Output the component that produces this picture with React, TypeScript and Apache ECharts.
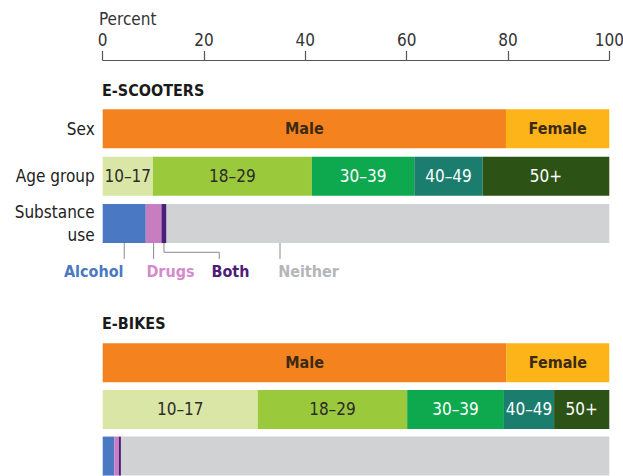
import React, { useEffect, useRef } from "react";
import * as echarts from "echarts";

const rows = ["Sex", "Age group", "Substance\nuse"];
const ticks = [0, 20, 40, 60, 80, 100];

const sexNames = ["Male", "Female"];
const ageNames = ["10–17", "18–29", "30–39", "40–49", "50+"];
const useNames = ["Alcohol", "Drugs", "Both", "Neither"];

const scooterSex = [79.6, 20.4];
const scooterAge = [9.9, 31.4, 20.2, 13.5, 25.0];
const scooterUse = [8.5, 3.1, 1.0, 87.4];

const bikeSex = [79.7, 20.3];
const bikeAge = [30.6, 29.5, 19.1, 9.9, 10.9];
const bikeUse = [2.3, 0.9, 0.4, 96.4];

const sexColors = ["#F4821F", "#FCB418"];
const ageColors = ["#DAE6A6", "#9BC93C", "#0EA84F", "#1B7D6E", "#2C5215"];
const useColors = ["#4A78C2", "#C97DC1", "#4B1E79", "#D1D2D4"];
const sexText = ["#3b2a14", "#3b2a14"];
const ageText = ["#2b2b2b", "#2b2b2b", "#ffffff", "#ffffff", "#ffffff"];
const legendColors = ["#4A78C2", "#D58BCB", "#4B1E79", "#B5B6B8"];

const FONT = "'DejaVu Sans Condensed', 'Liberation Sans Narrow', sans-serif";

function buildSeries(grid: number, sex: number[], age: number[], use: number[]) {
  const out: any[] = [];
  const mk = (name: string, row: number, v: number, color: string, label: any) => {
    const data: any[] = ["-", "-", "-"];
    data[row] = v;
    out.push({
      type: "bar",
      name,
      xAxisIndex: grid,
      yAxisIndex: grid,
      stack: "s" + grid,
      barWidth: 39,
      data,
      itemStyle: { color },
      label,
      emphasis: { disabled: true },
    });
  };
  sex.forEach((v, i) =>
    mk(sexNames[i], 0, v, sexColors[i], {
      show: true,
      position: "inside",
      formatter: "{a}",
      fontFamily: FONT,
      fontSize: 16,
      fontWeight: "bold",
      color: sexText[i],
    })
  );
  age.forEach((v, i) =>
    mk(ageNames[i], 1, v, ageColors[i], {
      show: true,
      position: "inside",
      formatter: "{a}",
      fontFamily: FONT,
      fontSize: 17,
      color: ageText[i],
    })
  );
  use.forEach((v, i) => mk(useNames[i], 2, v, useColors[i], { show: false }));
  return out;
}

export default function App() {
  const ref = useRef<HTMLDivElement>(null);
  useEffect(() => {
    if (!ref.current) return;
    const chart = echarts.init(ref.current, null, { renderer: "svg" });
    const option: any = {
      animation: false,
      grid: [
        { left: 102.7, right: 13.7, top: 105.2, height: 142, outerBoundsMode: "none", containLabel: false },
        { left: 102.7, right: 13.7, top: 339.4, height: 140, outerBoundsMode: "none", containLabel: false },
      ],
      xAxis: [
        {
          gridIndex: 0,
          type: "value",
          position: "top",
          offset: 45.2,
          min: 0,
          max: 100,
          interval: 20,
          splitLine: { show: false },
          axisLine: { show: true, lineStyle: { color: "#555", width: 1.2 } },
          axisTick: { show: true, length: 9, lineStyle: { color: "#555", width: 1.2 } },
          axisLabel: {
            margin: 12,
            fontFamily: FONT,
            fontSize: 17,
            color: "#333",
            formatter: (v: number) => (ticks.includes(v) ? String(v) : ""),
          },
        },
        {
          gridIndex: 1,
          type: "value",
          min: 0,
          max: 100,
          show: false,
          splitLine: { show: false },
        },
      ],
      yAxis: [
        {
          gridIndex: 0,
          type: "category",
          inverse: true,
          data: rows,
          axisLine: { show: false },
          axisTick: { show: false },
          axisLabel: {
            margin: 8,
            fontFamily: FONT,
            fontSize: 17,
            color: "#222",
            lineHeight: 23,
            align: "right",
          },
        },
        {
          gridIndex: 1,
          type: "category",
          inverse: true,
          data: rows,
          show: false,
        },
      ],
      series: [
        ...buildSeries(0, scooterSex, scooterAge, scooterUse),
        ...buildSeries(1, bikeSex, bikeAge, bikeUse),
      ],
    };
    chart.setOption(option);

    // leader lines for the substance-use legend, positioned from data
    const starts: number[] = [];
    let acc = 0;
    scooterUse.forEach((v) => {
      starts.push(acc);
      acc += v;
    });
    const px = (val: number) => chart.convertToPixel({ xAxisIndex: 0 }, val) as number;
    const alcX = px(starts[0] + scooterUse[0] / 2);
    const drgX = px(starts[1] + scooterUse[1] / 2);
    const bthX = px(starts[2] + scooterUse[2] / 2);
    const neiX = px(35);
    const barBottom = 243;
    const lineEnd = 259;
    const ls = { stroke: "#8a8a8a", lineWidth: 1, fill: "none" };
    const legendX = [93.7, 170.5, 230.5, 308.5];
    const graphic: any[] = [
      {
        type: "text",
        left: 99,
        top: 10,
        style: { text: "Percent", font: `17px ${FONT}`, fill: "#333" },
      },
      {
        type: "text",
        left: 102,
        top: 82,
        style: { text: "E-SCOOTERS", font: `bold 16px ${FONT}`, fill: "#1a1a1a" },
      },
      {
        type: "text",
        left: 102,
        top: 315,
        style: { text: "E-BIKES", font: `bold 16px ${FONT}`, fill: "#1a1a1a" },
      },
      { type: "line", shape: { x1: alcX, y1: barBottom, x2: alcX, y2: lineEnd }, style: ls },
      { type: "line", shape: { x1: drgX, y1: barBottom, x2: drgX, y2: lineEnd }, style: ls },
      {
        type: "polyline",
        shape: {
          points: [
            [bthX, barBottom],
            [bthX, 252.3],
            [219.3, 252.3],
            [219.3, lineEnd],
          ],
        },
        style: ls,
      },
      { type: "line", shape: { x1: neiX, y1: barBottom, x2: neiX, y2: lineEnd }, style: ls },
    ];
    useNames.forEach((n, i) => {
      graphic.push({
        type: "text",
        x: legendX[i],
        y: 271.5,
        style: {
          text: n,
          font: `bold 16px ${FONT}`,
          fill: legendColors[i],
          align: "center",
          verticalAlign: "middle",
        },
      });
    });
    chart.setOption({ graphic });
    return () => chart.dispose();
  }, []);
  return (
    <div
      ref={ref}
      style={{ position: "fixed", left: 0, top: 0, width: 623, height: 476, background: "#fff" }}
    />
  );
}
